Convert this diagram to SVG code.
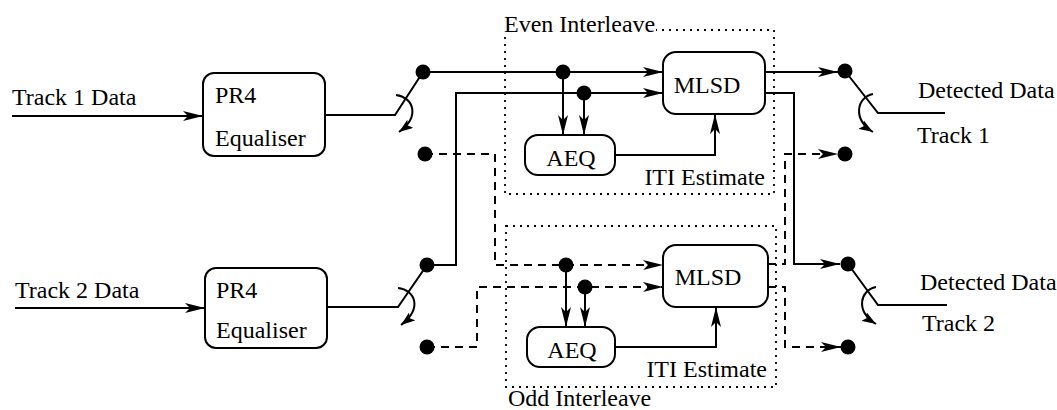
<svg xmlns="http://www.w3.org/2000/svg" width="1057" height="410" viewBox="0 0 1057 410">
<defs>
<marker id="ah" markerUnits="userSpaceOnUse" viewBox="0 -5 20 10" refX="20" refY="0" markerWidth="20" markerHeight="10" orient="auto">
<path d="M0,-5 L20,0 L0,5 L5,0 z" fill="#000"/>
</marker>
<marker id="ahs" markerUnits="userSpaceOnUse" viewBox="0 -5 14 10" refX="14" refY="0" markerWidth="14" markerHeight="10" orient="auto">
<path d="M0,-5 L14,0 L0,5 L3,0 z" fill="#000"/>
</marker>
<style>
text{font-family:"Liberation Serif","Times New Roman",serif;font-size:24px;fill:#000}
.box{fill:#fff;stroke:#000;stroke-width:2}
.ln{fill:none;stroke:#000;stroke-width:2}
.ds{fill:none;stroke:#000;stroke-width:2;stroke-dasharray:8 6}
.dt{fill:none;stroke:#000;stroke-width:1.8;stroke-dasharray:2 5}
.dot{fill:#000}
</style>
</defs>
<rect width="1057" height="410" fill="#fff"/>

<g id="even-interleave">
<path class="dt" d="M505,37 V194 H774 V30 H656"/>
<text x="504" y="32">Even Interleave</text>
</g>
<g id="odd-interleave">
<rect class="dt" x="506" y="226" width="270" height="161"/>
<text x="508" y="406">Odd Interleave</text>
</g>

<g id="connectors">
<line class="ln" x1="12" y1="116" x2="203" y2="116" marker-end="url(#ah)"/>
<line class="ln" x1="15" y1="308" x2="205" y2="308" marker-end="url(#ah)"/>
<polyline class="ln" points="325,115 395,115 423,72"/>
<path class="ln" d="M396,95 C413,97 421,116 399,132" marker-end="url(#ahs)"/>
<polyline class="ln" points="327,307 398,307 427,265"/>
<path class="ln" d="M398,288 C415,290 423,308 401,325" marker-end="url(#ahs)"/>
<line class="ln" x1="423" y1="72" x2="663" y2="72" marker-end="url(#ah)"/>
<polyline class="ln" points="427,265 456,265 456,93 663,93" marker-end="url(#ah)"/>
<line class="ln" x1="563" y1="72" x2="563" y2="135" marker-end="url(#ah)"/>
<line class="ln" x1="584" y1="93" x2="584" y2="135" marker-end="url(#ah)"/>
<polyline class="ln" points="615,155 715,155 715,114" marker-end="url(#ah)"/>
<polyline class="ds" points="425,154 495,154 495,265 663,265" marker-end="url(#ah)"/>
<polyline class="ds" points="427,347 477,347 477,287 663,287" marker-end="url(#ah)"/>
<line class="ln" x1="566" y1="265" x2="566" y2="327" marker-end="url(#ah)"/>
<line class="ln" x1="585" y1="287" x2="585" y2="327" marker-end="url(#ah)"/>
<polyline class="ln" points="615,347 716,347 716,307" marker-end="url(#ah)"/>
<line class="ln" x1="765" y1="72" x2="838" y2="72" marker-end="url(#ah)"/>
<polyline class="ln" points="765,93 794,93 794,264 840,264" marker-end="url(#ah)"/>
<polyline class="ds" points="768,264 785,264 785,154 838,154" marker-end="url(#ah)"/>
<polyline class="ds" points="768,287 785,287 785,347 841,347" marker-end="url(#ah)"/>
<polyline class="ln" points="845,71 878,113 945,113"/>
<path class="ln" d="M873,94 C857,97 852,119 873,132" marker-end="url(#ahs)"/>
<polyline class="ln" points="848,264 878,305 947,305"/>
<path class="ln" d="M876,287 C860,290 855,311 876,324" marker-end="url(#ahs)"/>
<circle class="dot" cx="423" cy="72" r="7.5"/>
<circle class="dot" cx="425" cy="154" r="7.5"/>
<circle class="dot" cx="427" cy="265" r="7.5"/>
<circle class="dot" cx="427" cy="347" r="7.5"/>
<circle class="dot" cx="563" cy="72" r="7.5"/>
<circle class="dot" cx="584" cy="93" r="7.5"/>
<circle class="dot" cx="566" cy="265" r="7.5"/>
<circle class="dot" cx="585" cy="287" r="7.5"/>
<circle class="dot" cx="845" cy="71" r="7.5"/>
<circle class="dot" cx="845" cy="154" r="7.5"/>
<circle class="dot" cx="848" cy="264" r="7.5"/>
<circle class="dot" cx="848" cy="347" r="7.5"/>
</g>

<g id="pr4-1">
<rect class="box" x="203" y="73" width="122" height="83" rx="11"/>
<text x="215" y="103">PR4</text>
<text x="215" y="146">Equaliser</text>
</g>
<g id="pr4-2">
<rect class="box" x="205" y="268" width="122" height="80" rx="11"/>
<text x="216" y="298">PR4</text>
<text x="216" y="338">Equaliser</text>
</g>
<g id="mlsd-1">
<rect class="box" x="663" y="52" width="102" height="62" rx="13"/>
<text x="707" y="93" text-anchor="middle">MLSD</text>
</g>
<g id="mlsd-2">
<rect class="box" x="663" y="245" width="105" height="62" rx="13"/>
<text x="708" y="285" text-anchor="middle">MLSD</text>
</g>
<g id="aeq-1">
<rect class="box" x="525" y="135" width="90" height="40" rx="13"/>
<text x="571" y="166" text-anchor="middle">AEQ</text>
</g>
<g id="aeq-2">
<rect class="box" x="527" y="327" width="88" height="40" rx="13"/>
<text x="572" y="358" text-anchor="middle">AEQ</text>
</g>

<g id="labels">
<text x="12" y="105">Track 1 Data</text>
<text x="15" y="298">Track 2 Data</text>
<text x="765" y="185" text-anchor="end">ITI Estimate</text>
<text x="767" y="377" text-anchor="end">ITI Estimate</text>
<text x="918" y="98">Detected Data</text>
<text x="917" y="143">Track 1</text>
<text x="920" y="290">Detected Data</text>
<text x="922" y="331">Track 2</text>
</g>
</svg>
